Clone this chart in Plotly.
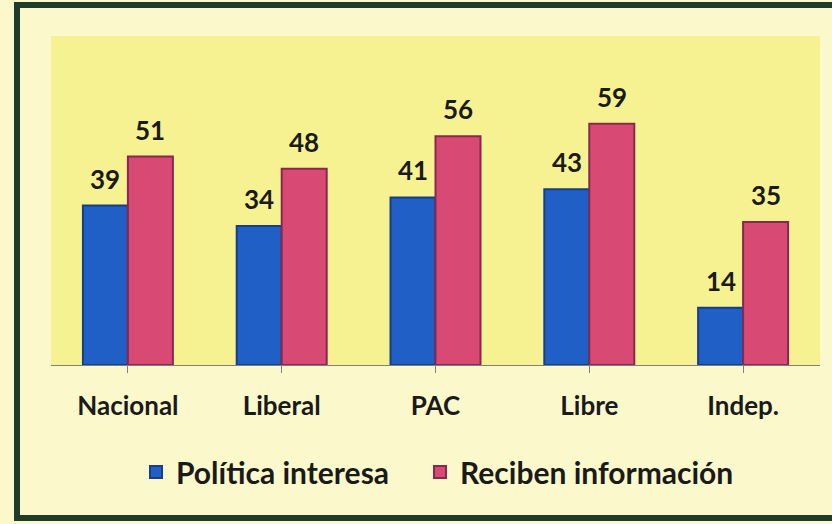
import plotly.graph_objects as go

categories = ["Nacional", "Liberal", "PAC", "Libre", "Indep."]
politica_interesa = [39, 34, 41, 43, 14]
reciben_informacion = [51, 48, 56, 59, 35]
series_names = ["Política interesa", "Reciben información"]

FONT = "Lato"
x_idx = list(range(len(categories)))

fig = go.Figure()
fig.add_trace(go.Bar(
    x=x_idx, y=politica_interesa, name=series_names[0], legend="legend",
    marker=dict(color="#1f5fc6", line=dict(color="#163f86", width=2)),
))
fig.add_trace(go.Bar(
    x=x_idx, y=reciben_informacion, name=series_names[1], legend="legend2",
    marker=dict(color="#d84a74", line=dict(color="#86284f", width=2)),
))

bargap = 0.415
half = (1 - bargap) / 4
for i, (a, b) in enumerate(zip(politica_interesa, reciben_informacion)):
    for xv, yv in ((i - half, a), (i + half, b)):
        fig.add_annotation(x=xv, y=yv, text=f"<b>{yv}</b>", showarrow=False,
                           yanchor="middle", yshift=27,
                           font=dict(family=FONT, size=26, color="#1a1a1a"))

L, R, T, B = 51, 12, 36, 159
W, H = 832, 524
pw, ph = W - L - R, H - T - B

def px_x(v):
    return (v - L) / pw

def px_y(v):
    return (H - B - v) / ph

# frame: left, top and bottom edges (right edge lies outside the picture)
border = dict(color="#1f3b2a", width=6)
bx0, bx1, by0, by1 = 17, 832, 5, 518
for (xa, ya, xb, yb) in ((bx0, by0 - 3, bx0, by1 + 3), (bx0 - 3, by0, bx1, by0), (bx0 - 3, by1, bx1, by1)):
    fig.add_shape(type="line", xref="paper", yref="paper",
                  x0=px_x(xa), y0=px_y(ya), x1=px_x(xb), y1=px_y(yb),
                  line=border, layer="below")

legend_style = dict(orientation="h", xanchor="left",
                    y=px_y(472), yanchor="middle",
                    font=dict(family=FONT, size=30, color="#1a1a1a", weight="bold"),
                    bgcolor="rgba(0,0,0,0)", itemwidth=30)

fig.update_layout(
    width=W, height=H,
    margin=dict(l=L, r=R, t=T, b=B),
    paper_bgcolor="#fbf9cc",
    plot_bgcolor="#f7f291",
    barmode="group", bargap=bargap, bargroupgap=0,
    font=dict(family=FONT, size=26, color="#1a1a1a"),
    showlegend=True,
    legend=dict(x=px_x(136), **legend_style),
    legend2=dict(x=px_x(420), **legend_style),
    xaxis=dict(
        tickmode="array", tickvals=x_idx, ticktext=categories,
        range=[-0.5, len(categories) - 0.5],
        showline=True, linecolor="#808080", linewidth=1,
        ticks="outside", tickson="boundaries", ticklen=7, tickcolor="#808080",
        tickfont=dict(family=FONT, size=26, color="#1a1a1a", weight="bold"),
        ticklabelstandoff=11,
        showgrid=False, zeroline=False, fixedrange=True,
    ),
    yaxis=dict(range=[0, 80.5], visible=False, showgrid=False, fixedrange=True),
)

fig.write_html(
    "out.html",
    config={"displayModeBar": False},
    post_script=(
        "document.body.style.margin='0';"
        "document.body.style.background='#fbf9cc';"
        "document.body.style.overflow='hidden';"
        "document.documentElement.style.overflow='hidden';"
    ),
)
